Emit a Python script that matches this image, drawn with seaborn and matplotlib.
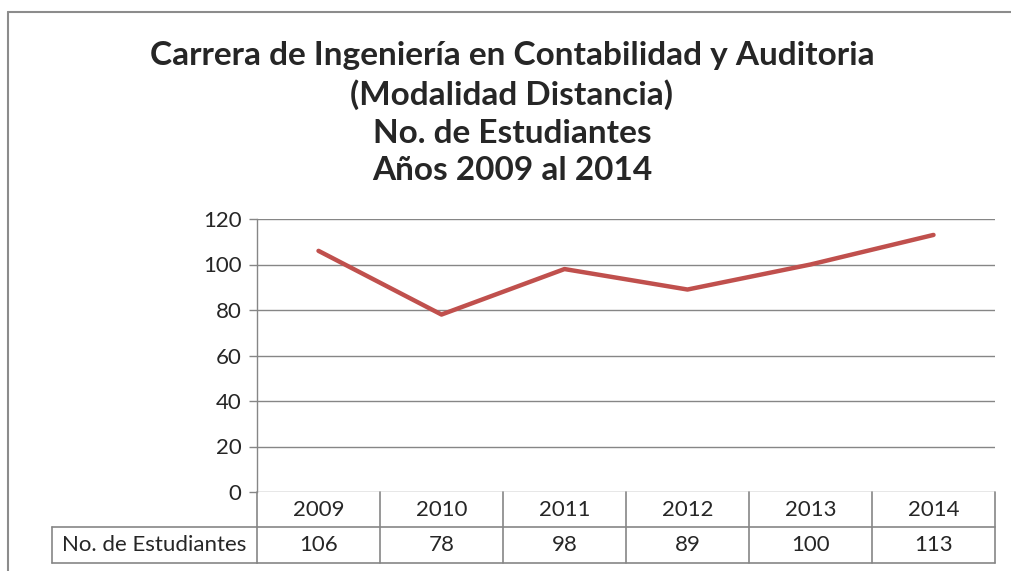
import matplotlib
matplotlib.use("Agg")
import matplotlib.pyplot as plt
import seaborn as sns
import pandas as pd

years = ["2009", "2010", "2011", "2012", "2013", "2014"]
students = [106, 78, 98, 89, 100, 113]
series_name = "No. de Estudiantes"
y_ticks = [0, 20, 40, 60, 80, 100, 120]
title = ("Carrera de Ingeniería en Contabilidad y Auditoria\n"
         "(Modalidad Distancia)\nNo. de Estudiantes\nAños 2009 al 2014")

df = pd.DataFrame({"pos": range(len(years)), "year": years, "value": students})

sns.set_style("white")
plt.rcParams["font.family"] = ["Lato", "DejaVu Sans"]

W, H = 1012, 571
fig = plt.figure(figsize=(W / 100, H / 100), dpi=100)
grid_c = "#868686"
fs = 16

# outer chart border: only left and top edges fall inside the image
bl = dict(color="#8c8c8c", lw=1.5, transform=fig.transFigure)
fig.add_artist(plt.Line2D([8 / W, 8 / W], [0, 1 - 12 / H], **bl))
fig.add_artist(plt.Line2D([8 / W, 1], [1 - 12 / H, 1 - 12 / H], **bl))

x0, x1, ytop, ybot = 257, 995, 219, 492
ax = fig.add_axes([x0 / W, 1 - ybot / H, (x1 - x0) / W, (ybot - ytop) / H])

sns.lineplot(data=df, x="pos", y="value", ax=ax, color="#C0504D", linewidth=3.2,
             legend=False)

ax.set_xlim(-0.5, len(years) - 0.5)
ax.set_ylim(0, 120)
ax.set_yticks(y_ticks)
ax.set_xticks([])
ax.set_xlabel("")
ax.set_ylabel("")
ax.tick_params(axis="y", left=True, direction="out", length=6, width=1, color=grid_c,
               labelsize=fs, pad=5)
for v in y_ticks:
    ax.axhline(v, color=grid_c, lw=1, zorder=0)
for s in ["top", "right", "bottom"]:
    ax.spines[s].set_visible(False)
ax.spines["left"].set_color(grid_c)
ax.spines["left"].set_linewidth(1)

# data table below the axes
px = (ybot - ytop)
r1 = -(527 - ybot) / px
r2 = -(563 - ybot) / px
xt = ax.get_xaxis_transform()
tk = dict(color=grid_c, lw=1.2, clip_on=False, transform=xt)
for b in [i - 0.5 for i in range(len(years) + 1)]:
    ax.plot([b, b], [0, r2], **tk)
ax.plot([-0.5, len(years) - 0.5], [r1, r1], **tk)
ax.plot([-0.5, len(years) - 0.5], [r2, r2], **tk)
for i, (yr, v) in enumerate(zip(years, students)):
    ax.text(i, (0 + r1) / 2, yr, ha="center", va="center", fontsize=fs, transform=xt)
    ax.text(i, (r1 + r2) / 2, str(v), ha="center", va="center", fontsize=fs, transform=xt)

# row header box
hx = 52 / W
fl = dict(color=grid_c, lw=1.2, transform=fig.transFigure)
fig.add_artist(plt.Line2D([hx, x0 / W], [1 - 527 / H, 1 - 527 / H], **fl))
fig.add_artist(plt.Line2D([hx, x0 / W], [1 - 563 / H, 1 - 563 / H], **fl))
fig.add_artist(plt.Line2D([hx, hx], [1 - 527 / H, 1 - 563 / H], **fl))
fig.text((hx + x0 / W) / 2, 1 - 545 / H, series_name, ha="center", va="center", fontsize=fs)

fig.text(512 / W, 1 - 113 / H, title, ha="center", va="center", fontsize=24,
         fontweight="bold", linespacing=1.36)

fig.savefig("out.png", dpi=100)
